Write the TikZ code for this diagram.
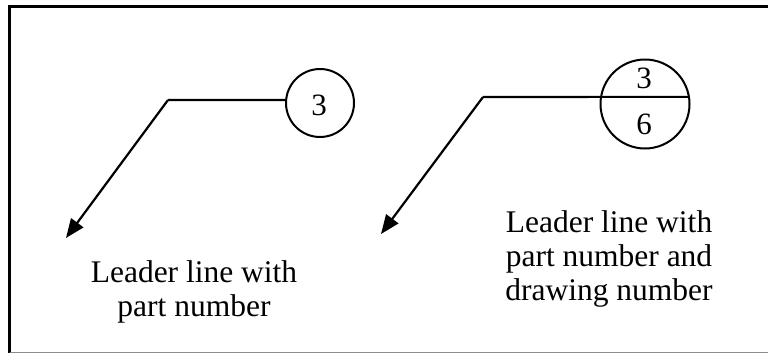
\documentclass[tikz,border=0pt]{standalone}
\usepackage{fontspec}
\setmainfont{Liberation Serif}
\usetikzlibrary{arrows.meta}

\tikzset{
  leader/.style={line width=2.2pt, line join=miter},
  arrowed/.style={leader, -{Triangle[length=19pt,width=15pt]}},
  balloon/.style={circle, draw, line width=2pt, inner sep=0pt},
  lbl/.style={font=\fontsize{31.5}{34}\selectfont, align=center},
  digit/.style={font=\fontsize{31}{34}\selectfont, anchor=base, inner sep=0pt},
}

\begin{document}
\begin{tikzpicture}[x=1pt, y=-1pt]
  \useasboundingbox (0,0) rectangle (768,354);

  % frame (right edge runs off the page)
  \draw[line width=3pt] (768,6.5) -- (9.5,6.5) -- (9.5,352.5);
  \draw[line width=1.5pt, black!45] (9.5,352.5) -- (768,352.5);

  % --- single balloon: part number only ---
  \node[balloon, minimum size=68pt] (c1) at (320,103) {};
  \node[digit] (n1) at (319,115) {3};
  \coordinate (b1) at (168,100);
  \coordinate (t1) at (66,238);
  \draw[leader] (c1.175) -- (b1);
  \draw[arrowed] (b1) -- (t1);
  % base anchor of a multi-line node sits on its last line
  \node[lbl, anchor=base] (l1) at (194,316) {Leader line with\\part number};

  % --- split balloon: part number over drawing number ---
  \node[balloon, minimum size=89pt] (c2) at (645,104) {};
  \node[digit] (n2) at (644,88) {3};
  \node[digit] (n3) at (644,134) {6};
  \coordinate (b2) at (483,97);
  \coordinate (t2) at (381,234);
  \draw[leader] (c2.9) -- (c2.171) -- (b2);
  \draw[arrowed] (b2) -- (t2);
  \node[lbl, anchor=base] (l2) at (609,300) {Leader line with\\part number and\\drawing number};
\end{tikzpicture}
\end{document}
